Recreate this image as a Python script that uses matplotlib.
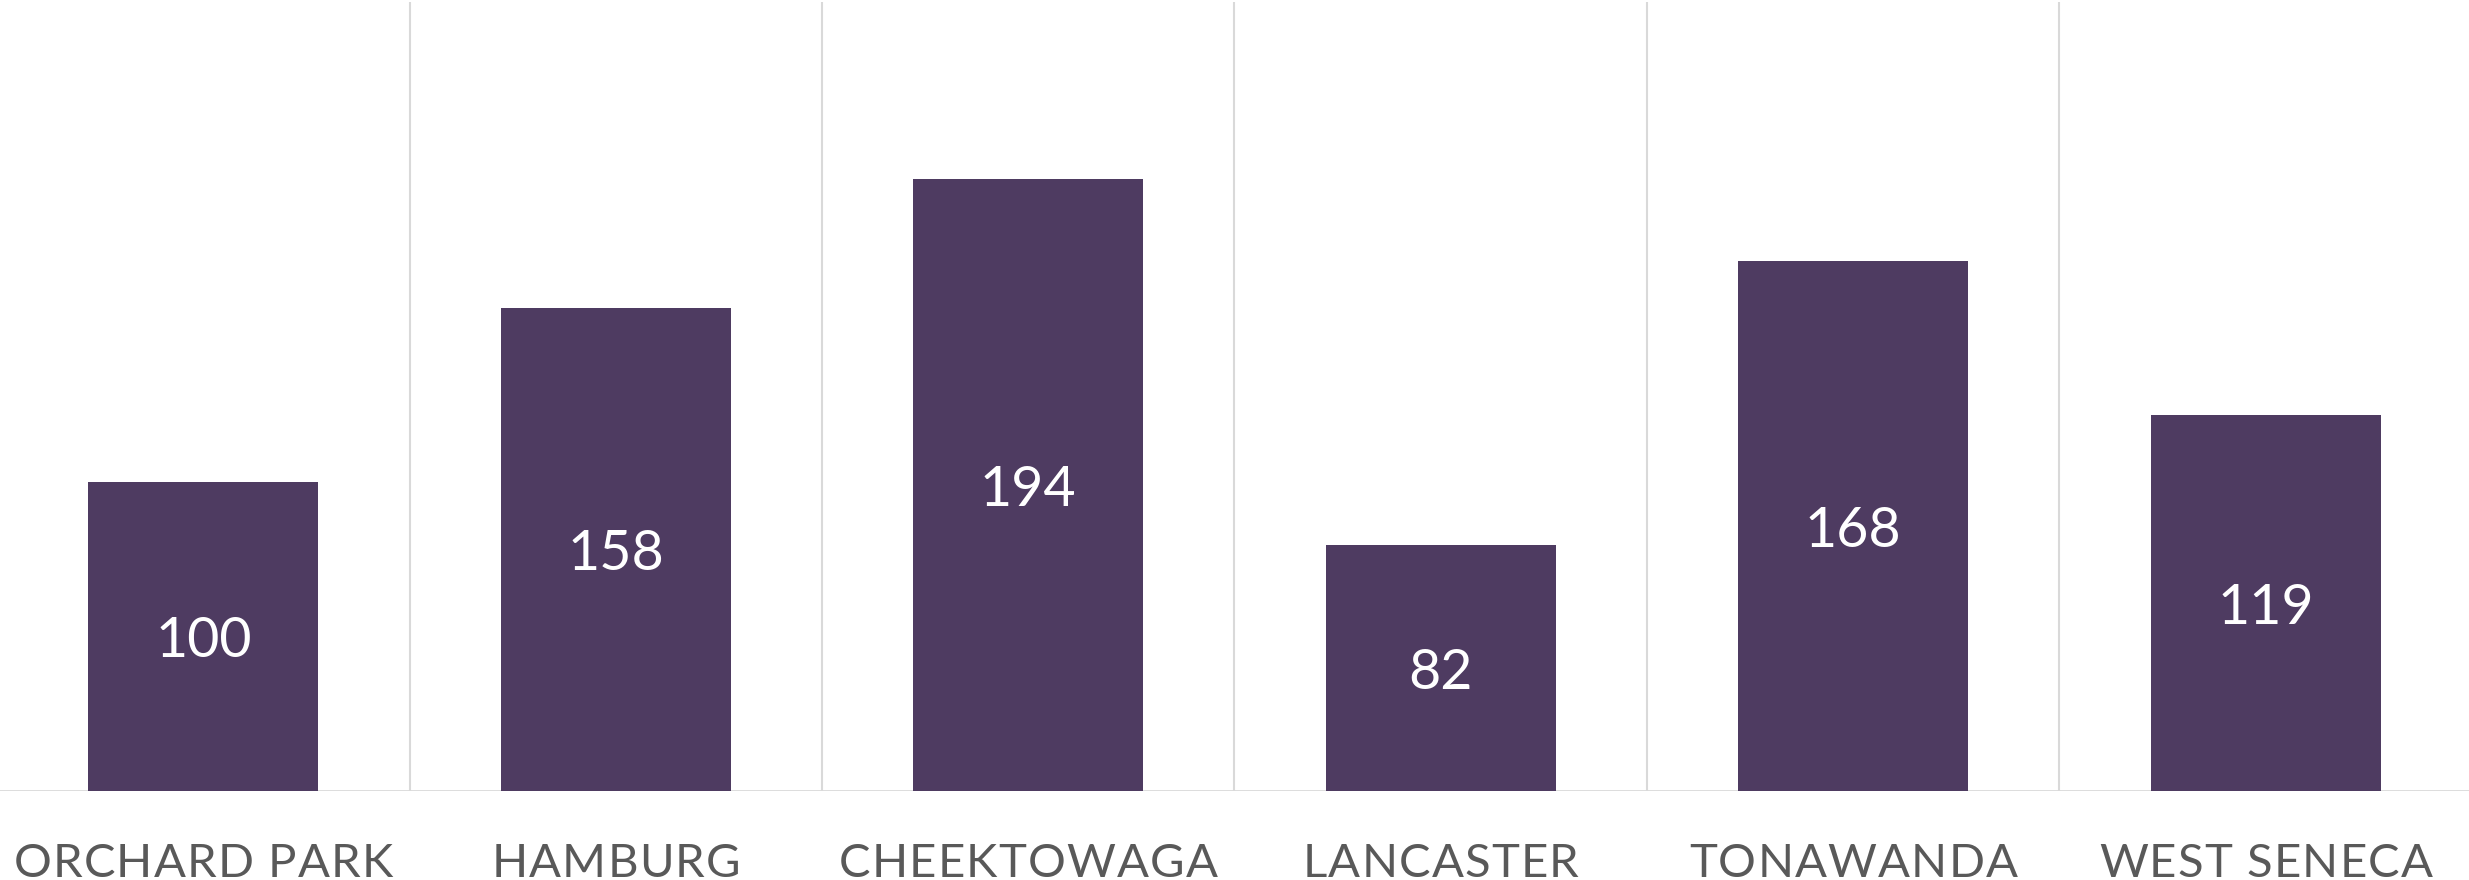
import matplotlib
matplotlib.use("Agg")
import matplotlib.pyplot as plt
from matplotlib.transforms import IdentityTransform

towns = ["ORCHARD PARK", "HAMBURG", "CHEEKTOWAGA", "LANCASTER", "TONAWANDA", "WEST SENECA"]
bar_heights = [98, 153, 194, 78, 168, 119]   # as drawn
bar_labels = [100, 158, 194, 82, 168, 119]   # as printed on the bars

bar_color = "#4E3B61"
grid_color = "#D9D9D9"
text_color = "#595959"

plt.rcParams["font.family"] = ["Lato", "DejaVu Sans"]

fig = plt.figure(figsize=(24.69, 8.8), dpi=100)
ax = fig.add_axes([-0.0012, 0.1015, 1.0024, 0.8962])

x = list(range(len(towns)))
bars = ax.bar(x, bar_heights, width=0.558, color=bar_color, zorder=3)

for b, lab in zip(bars, bar_labels):
    ax.annotate(str(lab), (b.get_x() + b.get_width() / 2, b.get_height() / 2),
                xytext=(0, -4), textcoords="offset points",
                ha="center", va="center", color="white", fontsize=40, zorder=4)

ax.set_xlim(-0.5, len(towns) - 0.5)
ax.set_ylim(0, 250)

# category separators and baseline
for i in range(1, len(towns)):
    ax.axvline(i - 0.5, color=grid_color, lw=1.5, zorder=1)
ax.axhline(0, color=grid_color, lw=2, zorder=2)

for s in ax.spines.values():
    s.set_visible(False)
ax.set_yticks([])
ax.set_xticks([])

# category labels with letter spacing (matplotlib has no tracking option)
renderer = fig.canvas.get_renderer()
lab_kw = dict(fontsize=34, color=text_color)
tracking = 1.2  # px between letters


def text_w(s):
    t = fig.text(0, 0, s, transform=IdentityTransform(), **lab_kw)
    w = t.get_window_extent(renderer).width
    t.remove()
    return w


ref_w = text_w("X")
baseline_y = 880 - 877
for i, name in enumerate(towns):
    cx = ax.transData.transform((i, 0))[0]
    total = text_w(name) + tracking * (len(name) - 1)
    x0 = cx - total / 2
    for k, ch in enumerate(name):
        adv = text_w(name[:k] + "X") - ref_w if k else 0
        fig.text(x0 + adv + k * tracking, baseline_y, ch, transform=IdentityTransform(),
                 ha="left", va="baseline", **lab_kw)

fig.savefig("out.png", dpi=100)
